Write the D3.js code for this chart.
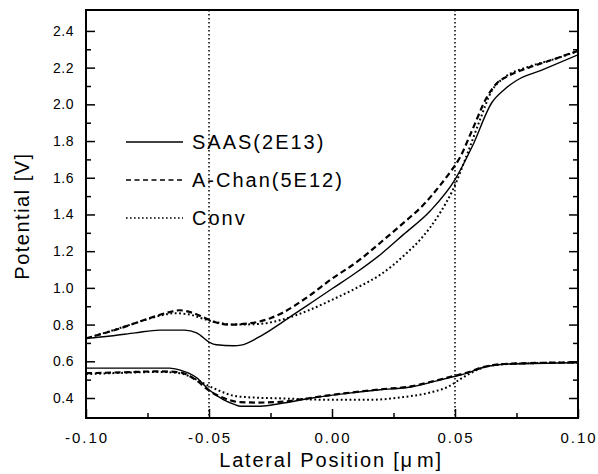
<!DOCTYPE html>
<html>
<head>
<meta charset="utf-8">
<script src="https://cdn.jsdelivr.net/npm/d3@7"></script>
<style>
  html, body { margin: 0; padding: 0; background: #fff; }
  svg { display: block; }
  text { font-family: "Liberation Sans", Arial, sans-serif; fill: #000; }
</style>
</head>
<body>
<svg id="chart" width="598" height="474"></svg>
<script>
// ---------- data ----------
const xTicksMajor = [-0.10, -0.05, 0.00, 0.05, 0.10];
const xTicksMinor = [-0.075, -0.025, 0.025, 0.075];
const xTickLabels = ["-0.10", "-0.05", "0.00", "0.05", "0.10"];
const yTicksMajor = [0.4, 0.6, 0.8, 1.0, 1.2, 1.4, 1.6, 1.8, 2.0, 2.2, 2.4];
const yTicksMinor = [0.5, 0.7, 0.9, 1.1, 1.3, 1.5, 1.7, 1.9, 2.1, 2.3];
const yTickLabels = ["0.4", "0.6", "0.8", "1.0", "1.2", "1.4", "1.6", "1.8", "2.0", "2.2", "2.4"];
const refLines = [-0.05, 0.05];
const seriesNames = ["SAAS(2E13)", "A-Chan(5E12)", "Conv"];

const saasUpper = [[-0.100,0.725],[-0.090,0.738],[-0.080,0.755],[-0.070,0.770],[-0.060,0.770],[-0.055,0.755],
  [-0.050,0.705],[-0.047,0.690],[-0.040,0.685],[-0.037,0.688],[-0.030,0.730],[-0.025,0.770],[-0.020,0.815],
  [-0.010,0.905],[0.000,0.995],[0.010,1.085],[0.020,1.185],[0.029,1.290],[0.040,1.420],[0.050,1.590],
  [0.057,1.770],[0.065,2.010],[0.070,2.080],[0.075,2.130],[0.085,2.185],[0.100,2.270]];
const achanUpper = [[-0.100,0.725],[-0.086,0.780],[-0.074,0.836],[-0.066,0.868],[-0.062,0.878],[-0.057,0.865],
  [-0.052,0.838],[-0.048,0.815],[-0.042,0.800],[-0.033,0.808],[-0.025,0.835],[-0.020,0.865],[-0.010,0.950],
  [0.000,1.050],[0.010,1.140],[0.020,1.250],[0.030,1.365],[0.037,1.450],[0.044,1.560],[0.048,1.630],
  [0.052,1.710],[0.057,1.860],[0.063,2.040],[0.067,2.115],[0.071,2.150],[0.080,2.200],[0.090,2.245],[0.100,2.292]];
const convUpper = [[-0.100,0.725],[-0.090,0.765],[-0.080,0.808],[-0.070,0.848],[-0.064,0.862],[-0.058,0.855],
  [-0.052,0.830],[-0.046,0.810],[-0.040,0.800],[-0.030,0.803],[-0.020,0.828],[-0.010,0.875],[0.000,0.935],
  [0.010,1.000],[0.020,1.075],[0.030,1.185],[0.036,1.265],[0.044,1.410],[0.049,1.530],[0.055,1.730],
  [0.060,1.910],[0.065,2.075],[0.070,2.145],[0.080,2.205],[0.090,2.245],[0.100,2.290]];

const saasLower = [[-0.100,0.563],[-0.066,0.563],[-0.062,0.553],[-0.055,0.510],[-0.050,0.445],[-0.044,0.390],
  [-0.040,0.367],[-0.037,0.355],[-0.029,0.355],[-0.021,0.370],[-0.008,0.400],[0.006,0.425],[0.0195,0.445],
  [0.032,0.460],[0.043,0.495],[0.049,0.515],[0.056,0.540],[0.061,0.565],[0.067,0.580],[0.072,0.585],[0.100,0.592]];
const achanLower = [[-0.100,0.535],[-0.085,0.540],[-0.070,0.545],[-0.062,0.540],[-0.055,0.495],[-0.050,0.440],
  [-0.044,0.400],[-0.038,0.378],[-0.030,0.375],[-0.020,0.380],[-0.008,0.402],[0.006,0.427],[0.0195,0.447],
  [0.032,0.463],[0.043,0.498],[0.049,0.518],[0.056,0.543],[0.061,0.567],[0.067,0.582],[0.072,0.587],[0.100,0.594]];
const convLower = [[-0.100,0.530],[-0.085,0.537],[-0.070,0.542],[-0.062,0.535],[-0.055,0.500],[-0.050,0.465],
  [-0.045,0.435],[-0.040,0.412],[-0.034,0.404],[-0.021,0.398],[0.000,0.390],[0.015,0.390],[0.029,0.405],
  [0.040,0.430],[0.047,0.460],[0.053,0.510],[0.059,0.553],[0.064,0.575],[0.072,0.585],[0.100,0.594]];

// ---------- layout ----------
const W = 598, H = 474;
const plot = { left: 86, right: 578, top: 10, bottom: 418 };
const x = d3.scaleLinear().domain([-0.1, 0.1]).range([plot.left, plot.right]);
const y = d3.scaleLinear().domain([0.291, 2.514]).range([plot.bottom, plot.top]);

const svg = d3.select("#chart");
svg.append("rect").attr("width", W).attr("height", H).attr("fill", "#fff");

const clipId = "plotclip";
svg.append("clipPath").attr("id", clipId).append("rect")
  .attr("x", plot.left).attr("y", plot.top)
  .attr("width", plot.right - plot.left).attr("height", plot.bottom - plot.top);

const styles = [
  { dash: null, width: 1.4 },
  { dash: "6,3.5", width: 2.2 },
  { dash: "1.8,2.6", width: 2.0 }
];

// reference dotted vertical lines
svg.append("g").selectAll("line").data(refLines).join("line")
  .attr("x1", d => x(d)).attr("x2", d => x(d))
  .attr("y1", plot.top).attr("y2", plot.bottom)
  .attr("stroke", "#000").attr("stroke-width", 1.5)
  .attr("stroke-dasharray", "1.6,2.4");

// curves
const line = d3.line().x(d => x(d[0])).y(d => y(d[1])).curve(d3.curveMonotoneX);
const curves = [
  { data: saasUpper, s: 0 }, { data: saasLower, s: 0 },
  { data: achanUpper, s: 1 }, { data: achanLower, s: 1 },
  { data: convUpper, s: 2 }, { data: convLower, s: 2 }
];
const gCurves = svg.append("g").attr("clip-path", `url(#${clipId})`);
curves.forEach(c => {
  const st = styles[c.s];
  gCurves.append("path").datum(c.data)
    .attr("d", line).attr("fill", "none").attr("stroke", "#000")
    .attr("stroke-width", st.width)
    .attr("stroke-dasharray", st.dash)
    .attr("stroke-linejoin", "round");
});

// axes (ticks pointing inward)
const gL = svg.append("g").attr("transform", `translate(${plot.left},0)`);
gL.call(d3.axisRight(y).tickValues(yTicksMajor).tickSize(9).tickFormat(""));
gL.append("g").call(d3.axisRight(y).tickValues(yTicksMinor).tickSize(5).tickFormat(""));
const gR = svg.append("g").attr("transform", `translate(${plot.right},0)`);
gR.call(d3.axisLeft(y).tickValues(yTicksMajor).tickSize(9).tickFormat(""));
gR.append("g").call(d3.axisLeft(y).tickValues(yTicksMinor).tickSize(5).tickFormat(""));
const gB = svg.append("g").attr("transform", `translate(0,${plot.bottom})`);
gB.call(d3.axisTop(x).tickValues(xTicksMajor).tickSize(9).tickFormat(""));
gB.append("g").call(d3.axisTop(x).tickValues(xTicksMinor).tickSize(5).tickFormat(""));
svg.selectAll(".domain").remove();
svg.selectAll(".tick line").attr("stroke", "#000").attr("stroke-width", 1.5);

// frame
svg.append("rect")
  .attr("x", plot.left).attr("y", plot.top)
  .attr("width", plot.right - plot.left).attr("height", plot.bottom - plot.top)
  .attr("fill", "none").attr("stroke", "#000").attr("stroke-width", 2);

// tick labels
svg.append("g").selectAll("text").data(yTicksMajor).join("text")
  .attr("x", plot.left - 12).attr("y", d => y(d)).attr("dy", "0.36em")
  .attr("text-anchor", "end").style("font-size", "14px").style("letter-spacing", "0.5px")
  .text((d, i) => yTickLabels[i]);
svg.append("g").selectAll("text").data(xTicksMajor).join("text")
  .attr("x", d => x(d) + 1).attr("y", plot.bottom + 25)
  .attr("text-anchor", "middle").style("font-size", "15px").style("letter-spacing", "2px")
  .text((d, i) => xTickLabels[i]);

// axis titles
const xt = svg.append("text").attr("x", (plot.left + plot.right) / 2 - 1).attr("y", 467)
  .attr("text-anchor", "middle").style("font-size", "20px").style("letter-spacing", "1.8px");
xt.append("tspan").text("Lateral Position [");
xt.append("tspan").text("μ");
xt.append("tspan").attr("dx", 3).text("m]");

svg.append("text")
  .attr("transform", `translate(29,${(plot.top + plot.bottom) / 2 + 2}) rotate(-90)`)
  .attr("text-anchor", "middle").style("font-size", "20px").style("letter-spacing", "1.5px")
  .text("Potential [V]");

// legend
const legend = svg.append("g");
const legY = d3.scaleLinear().domain([0, 2]).range([142, 218]);
seriesNames.forEach((name, i) => {
  legend.append("line")
    .attr("x1", 126).attr("x2", 183).attr("y1", legY(i)).attr("y2", legY(i))
    .attr("stroke", "#000").attr("stroke-width", i === 0 ? 1.5 : 1.6)
    .attr("stroke-dasharray", i === 0 ? null : (i === 1 ? "5,3.5" : "1.6,2.4"));
  legend.append("text")
    .attr("x", 192).attr("y", legY(i)).attr("dy", "0.36em")
    .style("font-size", "20px").style("letter-spacing", "2px")
    .text(name);
});
</script>
</body>
</html>
